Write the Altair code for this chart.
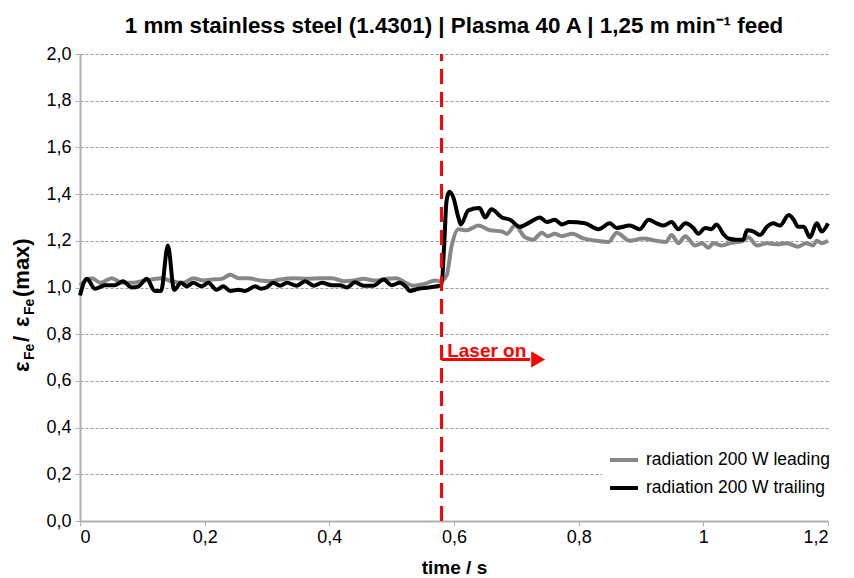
import altair as alt
import pandas as pd

# ---- data ----
series_names = ["radiation 200 W leading", "radiation 200 W trailing"]
series_colors = ["#878787", "#000000"]

lead_t = [0.0, 0.019, 0.033, 0.051, 0.067, 0.083, 0.099, 0.115, 0.131, 0.147,
          0.166, 0.182, 0.198, 0.211, 0.227, 0.241, 0.254, 0.270, 0.289, 0.305,
          0.321, 0.342, 0.364, 0.385, 0.404, 0.423, 0.439, 0.4545, 0.473, 0.492,
          0.508, 0.521, 0.535, 0.553, 0.5695, 0.578, 0.588, 0.596, 0.607, 0.620,
          0.639, 0.658, 0.677, 0.685, 0.698, 0.714, 0.727, 0.741, 0.750, 0.762,
          0.773, 0.790, 0.807, 0.829, 0.848, 0.861, 0.882, 0.903, 0.925, 0.940,
          0.949, 0.960, 0.971, 0.987, 0.998, 1.008, 1.016, 1.030, 1.043, 1.064,
          1.072, 1.086, 1.102, 1.118, 1.134, 1.152, 1.165, 1.176, 1.182, 1.190,
          1.200]
lead_v = [1.01, 1.04, 1.02, 1.04, 1.02, 1.02, 1.027, 1.034, 1.04, 1.027,
          1.02, 1.04, 1.03, 1.034, 1.037, 1.055, 1.04, 1.04, 1.03, 1.027,
          1.034, 1.04, 1.037, 1.04, 1.04, 1.027, 1.03, 1.037, 1.03, 1.037,
          1.04, 1.022, 1.008, 1.016, 1.03, 1.027, 1.05, 1.175, 1.25, 1.245,
          1.265, 1.245, 1.24, 1.23, 1.265, 1.215, 1.205, 1.235, 1.22, 1.23,
          1.22, 1.23, 1.21, 1.20, 1.195, 1.235, 1.20, 1.21, 1.20, 1.195,
          1.225, 1.19, 1.22, 1.18, 1.19, 1.17, 1.19, 1.18, 1.19, 1.20,
          1.215, 1.18, 1.19, 1.185, 1.19, 1.175, 1.19, 1.18, 1.20, 1.19,
          1.20]

trail_t = [0.0, 0.011, 0.024, 0.040, 0.056, 0.069, 0.083, 0.094, 0.107, 0.120,
           0.130, 0.141, 0.151, 0.162, 0.171, 0.182, 0.195, 0.206, 0.219, 0.230,
           0.241, 0.254, 0.265, 0.281, 0.290, 0.299, 0.310, 0.321, 0.332, 0.348,
           0.361, 0.375, 0.388, 0.404, 0.417, 0.428, 0.441, 0.455, 0.471, 0.487,
           0.500, 0.513, 0.524, 0.529, 0.543, 0.559, 0.572, 0.580, 0.584, 0.588,
           0.5925, 0.599, 0.607, 0.611, 0.623, 0.641, 0.650, 0.660, 0.677, 0.690,
           0.706, 0.722, 0.738, 0.749, 0.762, 0.773, 0.785, 0.810, 0.832, 0.850,
           0.861, 0.882, 0.898, 0.912, 0.925, 0.936, 0.949, 0.960, 0.971, 0.984,
           0.992, 1.003, 1.013, 1.021, 1.032, 1.040, 1.053, 1.064, 1.070, 1.080,
           1.091, 1.102, 1.112, 1.123, 1.137, 1.145, 1.152, 1.161, 1.171, 1.182,
           1.190, 1.200]
trail_v = [0.966, 1.037, 0.995, 1.01, 1.01, 1.027, 1.0, 1.005, 1.037, 0.985,
           0.985, 1.18, 0.99, 1.02, 1.005, 1.02, 1.005, 1.02, 0.99, 1.005,
           0.985, 0.99, 0.985, 1.005, 0.995, 1.0, 1.02, 1.008, 1.02, 1.008,
           1.027, 1.008, 1.02, 1.01, 1.01, 1.0, 1.022, 1.008, 1.008, 1.034,
           1.01, 1.02, 1.0, 0.985, 0.995, 1.0, 1.005, 1.01, 1.17, 1.37,
           1.41, 1.385, 1.30, 1.27, 1.33, 1.34, 1.30, 1.335, 1.30, 1.29,
           1.26, 1.28, 1.30, 1.28, 1.29, 1.27, 1.28, 1.275, 1.25, 1.275,
           1.255, 1.265, 1.25, 1.29, 1.275, 1.265, 1.28, 1.25, 1.275, 1.255,
           1.23, 1.255, 1.25, 1.27, 1.23, 1.21, 1.205, 1.205, 1.245, 1.24,
           1.225, 1.26, 1.275, 1.265, 1.31, 1.29, 1.26, 1.26, 1.215, 1.275,
           1.24, 1.275]

x_ticks = [0, 0.2, 0.4, 0.6, 0.8, 1.0, 1.2]
y_ticks = [0.0, 0.2, 0.4, 0.6, 0.8, 1.0, 1.2, 1.4, 1.6, 1.8, 2.0]

laser_t = [0.58]
arrow_t = [0.58]
arrow_t2 = [0.722]
arrow_head_t = [0.735]
arrow_v = [0.692]
label_t = [0.589]
label_v = [0.703]
label_text = "Laser on"

title_text = "1 mm stainless steel (1.4301) | Plasma 40 A | 1,25 m min\u207b\u00b9 feed"
x_title = "time / s"

FONT = "Liberation Sans"

df = pd.concat([
    pd.DataFrame({"t": lead_t, "v": lead_v, "series": series_names[0], "o": range(len(lead_t))}),
    pd.DataFrame({"t": trail_t, "v": trail_v, "series": series_names[1], "o": range(len(trail_t))}),
], ignore_index=True)

xscale = alt.Scale(domain=[0, 1.2], nice=False, zero=False)
yscale = alt.Scale(domain=[0, 2], nice=False, zero=False)

x_axis = alt.Axis(values=x_ticks, labelExpr="replace(format(datum.value, '~g'), '.', ',')",
                  grid=False, title=x_title, labelPadding=2, titlePadding=12)
y_axis = alt.Axis(values=y_ticks, labelExpr="replace(format(datum.value, '.1f'), '.', ',')",
                  grid=True, title=None, labelPadding=4)

lines = alt.Chart(df).mark_line(strokeWidth=4, strokeJoin="round", interpolate="monotone").encode(
    x=alt.X("t:Q", scale=xscale, axis=x_axis),
    y=alt.Y("v:Q", scale=yscale, axis=y_axis),
    color=alt.Color("series:N",
                    scale=alt.Scale(domain=series_names, range=series_colors),
                    legend=alt.Legend(title=None, orient="none", legendX=522, legendY=384,
                                      symbolType="stroke", symbolStrokeWidth=4, symbolSize=784,
                                      labelFontSize=17.5, labelFont=FONT, labelColor="#000",
                                      fillColor="white", padding=6, rowPadding=3,
                                      labelOffset=6, labelLimit=300)),
    order="o:Q",
)

rule = alt.Chart(pd.DataFrame({"t": laser_t})).mark_rule(
    color="#ff0000", strokeWidth=3, strokeDash=[15, 8]).encode(
    x=alt.X("t:Q", scale=xscale, title=x_title),
    y=alt.Y(datum=0, scale=yscale, title=None),
    y2=alt.Y2(datum=2),
)

arrow = alt.Chart(pd.DataFrame({"t": arrow_t, "t2": arrow_t2, "v": arrow_v})).mark_rule(
    color="#ff0000", strokeWidth=3).encode(
    x=alt.X("t:Q", scale=xscale, title=x_title),
    x2="t2:Q",
    y=alt.Y("v:Q", scale=yscale, title=None),
)

head = alt.Chart(pd.DataFrame({"t": arrow_head_t, "v": arrow_v})).mark_point(
    shape="triangle-right", filled=True, size=260, color="#ff0000", opacity=1).encode(
    x=alt.X("t:Q", scale=xscale, title=x_title),
    y=alt.Y("v:Q", scale=yscale, title=None),
)

label = alt.Chart(pd.DataFrame({"t": label_t, "v": label_v})).mark_text(
    text=label_text, align="left", baseline="alphabetic", fontSize=19, fontWeight="bold",
    color="#ff0000", font=FONT).encode(
    x=alt.X("t:Q", scale=xscale, title=x_title),
    y=alt.Y("v:Q", scale=yscale, title=None),
)

# y-axis title with subscripts, built from pieces (text, font size, x, y)
ytitle_pieces = [("\u03b5", 22, -51, 318), ("Fe", 14, -46.5, 306), ("/", 22, -51, 288),
                 ("\u03b5", 22, -51, 273), ("Fe", 14, -46.5, 261), ("(max)", 22, -51, 243)]
ytitle_layers = []
for txt, fs, px, py in ytitle_pieces:
    ytitle_layers.append(
        alt.Chart(alt.Data(values=[{}])).mark_text(
            text=txt, angle=270, align="left", baseline="alphabetic", fontSize=fs,
            fontWeight="bold", font=FONT, color="#000").encode(
            x=alt.value(px), y=alt.value(py))
    )

chart = alt.layer(lines, rule, arrow, head, label, *ytitle_layers).properties(
    width=748, height=467,
    padding={"left": 72, "top": 46, "right": 18, "bottom": 57},
    autosize="none",
    title=alt.TitleParams(text=title_text, fontSize=22.4, fontWeight="bold", font=FONT,
                          anchor="middle", offset=8, color="#000"),
).configure_view(stroke=None).configure_axis(
    labelFont=FONT, labelFontSize=18, labelColor="#000",
    titleFont=FONT, titleFontSize=19, titleFontWeight="bold", titleColor="#000",
    domainColor="#b0b0b0", domainWidth=2, tickColor="#b0b0b0", tickSize=5,
    gridColor="#999999", gridDash=[3, 2], gridWidth=1,
)

chart.save("out.html", embed_options={"renderer": "svg", "actions": False})
